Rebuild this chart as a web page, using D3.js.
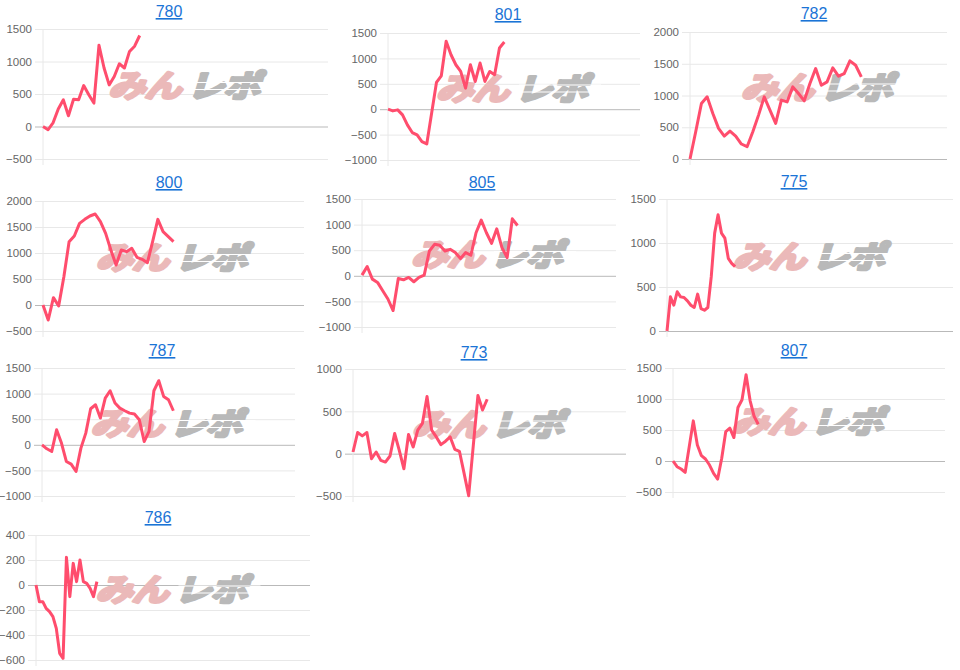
<!DOCTYPE html>
<html>
<head>
<meta charset="utf-8">
<script src="https://cdn.jsdelivr.net/npm/d3@7/dist/d3.min.js"></script>
<style>
  body { margin: 0; background: #fff; }
  svg { display: block; }
</style>
</head>
<body>
<svg id="chart" width="960" height="670"></svg>
<script>
// machine numbers, one small chart each
var ids = ["780", "801", "782", "800", "805", "775", "787", "773", "807", "786"];

// coin difference series
var s780 = [0, -50, 60, 270, 410, 165, 420, 410, 630, 490, 360, 1250, 900, 640, 770, 965, 900, 1155, 1235, 1400];
var s801 = [0, -33, -13, -112, -309, -460, -507, -638, -684, -79, 526, 658, 1336, 1072, 875, 743, 414, 875, 546, 908, 546, 743, 678, 1204, 1322];
var s782 = [0, 430, 875, 980, 717, 482, 361, 440, 361, 236, 194, 430, 691, 979, 770, 560, 927, 900, 1136, 1031, 916, 1188, 1424, 1162, 1215, 1435, 1304, 1346, 1545, 1476, 1293];
var s800 = [0, -288, 141, -19, 545, 1218, 1327, 1570, 1647, 1712, 1750, 1603, 1378, 1058, 769, 1058, 1026, 1090, 917, 878, 814, 1218, 1647, 1410, 1314, 1218];
var s805 = [13, 181, -65, -129, -291, -453, -679, -52, -78, -32, -116, -32, 13, 485, 615, 595, 485, 517, 453, 336, 453, 401, 841, 1087, 841, 634, 918, 550, 356, 1113, 983];
var s775 = [0, 388, 293, 446, 388, 381, 343, 293, 267, 419, 255, 236, 267, 617, 1112, 1322, 1112, 1055, 826, 769, 731];
var s787 = [0, -78, -130, 293, 33, -326, -378, -522, -65, 228, 704, 782, 522, 913, 1056, 815, 717, 665, 619, 600, 489, 65, 261, 1056, 1252, 945, 880, 665];
var s773 = [20, 250, 210, 250, -60, 20, -79, -99, -28, 238, 40, -179, 226, 79, 278, 357, 675, 278, 198, 107, 147, 198, 52, 28, -230, -496, 99, 687, 516, 643];
var s807 = [0, -92, -129, -183, 232, 647, 259, 86, 32, -65, -200, -291, 43, 475, 529, 378, 863, 987, 1392, 971, 717, 593];
var s786 = [0, -133, -133, -187, -213, -253, -347, -547, -587, 221, -93, 173, 27, 200, 27, 13, -27, -93, 27];
var series = [s780, s801, s782, s800, s805, s775, s787, s773, s807, s786];

// x slots on each chart's axis, and the y axis range
var xSlots = [56, 52, 45, 50, 49, 84, 52, 59, 67, 81];
var yMin  = [-500, -1000, 0, -500, -1000, 0, -1000, -500, -500, -600];
var yMax  = [1500, 1500, 2000, 2000, 1500, 1500, 1500, 1000, 1500, 400];
var yStep = [500, 500, 500, 500, 500, 500, 500, 500, 500, 200];

// where each small chart sits: plot box and title centre
var boxes = [
  {l: 43,  t: 29,  r: 328, b: 159, tx: 169, ty: 11},
  {l: 388, t: 33,  r: 640, b: 160, tx: 508, ty: 14},
  {l: 690, t: 32,  r: 947, b: 159, tx: 814, ty: 13},
  {l: 43,  t: 201, r: 304, b: 331, tx: 169, ty: 182},
  {l: 362, t: 199, r: 616, b: 327, tx: 482, ty: 182},
  {l: 667, t: 199, r: 953, b: 331, tx: 794, ty: 181},
  {l: 42,  t: 368, r: 295, b: 496, tx: 162, ty: 350},
  {l: 353, t: 369, r: 626, b: 496, tx: 474, ty: 352},
  {l: 673, t: 368, r: 945, b: 492, tx: 794, ty: 350},
  {l: 36,  t: 535, r: 310, b: 660, tx: 158, ty: 517}
];

var svg = d3.select("#chart");
var font = "Arial, 'Liberation Sans', sans-serif";
var jp = "'Noto Sans CJK JP', sans-serif";

ids.forEach(function(id, k) {
  var bx = boxes[k];
  var data = series[k];

  var x = d3.scaleLinear().domain([0, xSlots[k]]).range([bx.l, bx.r]);
  var y = d3.scaleLinear().domain([yMin[k], yMax[k]]).range([bx.b, bx.t]);
  var ticks = d3.range(yMin[k], yMax[k] + 1, yStep[k]);

  var g = svg.append("g");

  // grid + labels (tick marks poke out 8px left of the axis)
  var ax = g.append("g")
    .attr("transform", "translate(" + (bx.l - 8) + ",0)")
    .call(d3.axisLeft(y).tickValues(ticks).tickFormat(d3.format("d"))
      .tickSize(-(bx.r - bx.l + 8)).tickPadding(3));
  ax.select(".domain").remove();
  ax.selectAll(".tick line")
    .attr("stroke", function(d) { return d == 0 ? "#b9b9b9" : "#e8e8e8"; });
  ax.selectAll(".tick text")
    .attr("fill", "#666")
    .style("font-family", font)
    .style("font-size", "11.5px");

  g.append("line")
    .attr("x1", bx.l).attr("x2", bx.l)
    .attr("y1", bx.t).attr("y2", bx.b + 6)
    .attr("stroke", "#e8e8e8");

  // title link
  g.append("text")
    .attr("x", bx.tx).attr("y", bx.ty + 6)
    .attr("text-anchor", "middle")
    .attr("fill", "#1b74d6")
    .style("font-family", font)
    .style("font-size", "16px")
    .style("text-decoration", "underline")
    .text(id);

  // watermark
  var cx = bx.l + (bx.r - bx.l) * 0.52, cy = (bx.t + bx.b) / 2 - 8;
  var wm = g.append("g").attr("transform", "translate(" + cx + "," + cy + ")");
  wm.append("text")
    .attr("text-anchor", "end")
    .attr("transform", "translate(-11,11) scale(1.2,1) skewX(-14)")
    .attr("fill", "#ebb9b9")
    .attr("stroke", "#ebb9b9")
    .attr("stroke-width", 3)
    .attr("stroke-linejoin", "round")
    .style("font-family", jp)
    .style("font-weight", "700")
    .style("font-size", "31px")
    .style("letter-spacing", "-1px")
    .text("みん");
  wm.append("text")
    .attr("text-anchor", "start")
    .attr("transform", "translate(-4,11) scale(1.2,1) skewX(-14)")
    .attr("fill", "#b9b9b9")
    .attr("stroke", "#b9b9b9")
    .attr("stroke-width", 3)
    .attr("stroke-linejoin", "round")
    .style("font-family", jp)
    .style("font-weight", "700")
    .style("font-size", "31px")
    .style("letter-spacing", "-1px")
    .text("レポ");
  [-4, 3].forEach(function(dy) {
    wm.append("rect")
      .attr("x", 0).attr("y", dy).attr("width", 82).attr("height", 1)
      .attr("fill", "#fff");
  });

  var line = d3.line()
    .x(function(d, i) { return x(i); })
    .y(function(d) { return y(d); });

  g.append("path")
    .datum(data)
    .attr("d", line)
    .attr("fill", "none")
    .attr("stroke", "#ff4d6d")
    .attr("stroke-width", 3)
    .attr("stroke-linejoin", "round");
});
</script>
</body>
</html>
